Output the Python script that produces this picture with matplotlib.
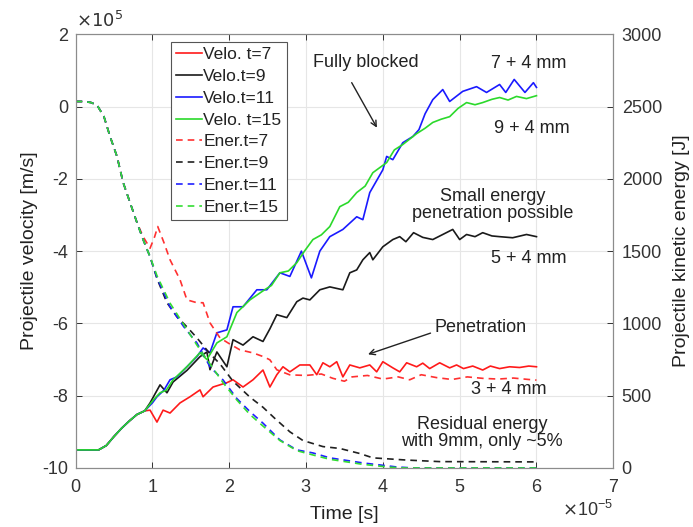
import numpy as np
import matplotlib
matplotlib.use("Agg")
from matplotlib import pyplot as plt
from matplotlib.ticker import FuncFormatter

plt.rcParams['font.family'] = ['Liberation Sans', 'DejaVu Sans']
plt.rcParams['axes.unicode_minus'] = False

# time in 1e-5 s, velocity in 1e5 m/s, energy in J
t_start = [0, 0.1, 0.2, 0.3, 0.4, 0.5, 0.6, 0.7, 0.8, 0.9]
v_start = [-9.5, -9.5, -9.5, -9.5, -9.38, -9.13, -8.9, -8.7, -8.52, -8.42]

t_v7 = [0.97, 1.06, 1.14, 1.23, 1.36, 1.49, 1.62, 1.66, 1.79, 1.97, 2.05, 2.18, 2.31, 2.44, 2.53,
        2.62, 2.7, 2.79, 2.92, 3.05, 3.14, 3.22, 3.31, 3.4, 3.48, 3.57, 3.7, 3.83, 3.92, 4.0,
        4.13, 4.22, 4.31, 4.44, 4.52, 4.61, 4.74, 4.87, 4.96, 5.05, 5.17, 5.3, 5.4, 5.52, 5.65,
        5.78, 5.9, 6.0]
v_v7 = [-8.4, -8.73, -8.4, -8.48, -8.2, -8.03, -7.84, -8.03, -7.76, -7.64, -7.56, -7.76, -7.56, -7.29, -7.76,
        -7.42, -7.2, -7.34, -7.15, -7.15, -7.42, -7.09, -7.2, -7.06, -7.48, -7.15, -7.23, -7.15, -7.34, -7.06,
        -7.23, -7.34, -7.09, -7.2, -7.1, -7.25, -7.09, -7.23, -7.15, -7.25, -7.18, -7.29, -7.18, -7.25, -7.2,
        -7.22, -7.18, -7.2]

t_v9 = [0.97, 1.1, 1.19, 1.27, 1.45, 1.62, 1.71, 1.75, 1.84, 1.97, 2.05, 2.18, 2.31, 2.44, 2.53,
        2.62, 2.75, 2.88, 2.96, 3.05, 3.18, 3.31, 3.48, 3.57, 3.66, 3.74, 3.83, 3.87, 4.0, 4.13,
        4.22, 4.3, 4.4, 4.52, 4.65, 4.78, 4.91, 5.0, 5.09, 5.2, 5.3, 5.42, 5.52, 5.69, 5.87, 6.0]
v_v9 = [-8.2, -7.7, -7.92, -7.62, -7.3, -6.92, -6.79, -7.28, -6.79, -7.2, -6.45, -6.6, -6.37, -6.5, -6.15,
        -5.76, -5.84, -5.4, -5.3, -5.35, -5.07, -4.99, -5.07, -4.6, -4.52, -4.24, -4.04, -4.24, -3.88, -3.68,
        -3.6, -3.74, -3.49, -3.62, -3.68, -3.54, -3.4, -3.68, -3.54, -3.6, -3.49, -3.58, -3.6, -3.63, -3.54, -3.6]

t_v11 = [1.0, 1.06, 1.15, 1.23, 1.32, 1.45, 1.58, 1.66, 1.75, 1.84, 1.97, 2.05, 2.18, 2.36, 2.49,
         2.66, 2.79, 2.94, 3.07, 3.18, 3.31, 3.48, 3.66, 3.74, 3.83, 4.0, 4.05, 4.13, 4.26, 4.39,
         4.47, 4.55, 4.65, 4.78, 4.87, 5.04, 5.22, 5.35, 5.52, 5.6, 5.71, 5.85, 5.96, 6.0]
v_v11 = [-8.2, -8.03, -7.85, -7.56, -7.48, -7.2, -6.92, -6.68, -6.81, -6.26, -6.18, -5.54, -5.54, -5.07, -5.07,
         -4.6, -4.7, -4.0, -4.74, -4.0, -3.6, -3.4, -3.05, -3.13, -2.38, -1.75, -1.38, -1.47, -1.0, -0.83,
         -0.64, -0.2, 0.19, 0.47, 0.14, 0.42, 0.55, 0.39, 0.61, 0.39, 0.75, 0.39, 0.66, 0.53]

t_v15 = [1.02, 1.1, 1.18, 1.27, 1.45, 1.62, 1.71, 1.84, 1.97, 2.1, 2.27, 2.44, 2.55, 2.66, 2.77,
         2.88, 2.98, 3.09, 3.2, 3.31, 3.44, 3.55, 3.66, 3.77, 3.87, 4.05, 4.15, 4.26, 4.44, 4.55,
         4.65, 4.76, 4.87, 4.98, 5.09, 5.2, 5.3, 5.42, 5.52, 5.63, 5.74, 5.87, 6.0]
v_v15 = [-8.1, -7.92, -7.85, -7.56, -7.2, -6.81, -7.0, -6.54, -6.37, -5.7, -5.35, -5.1, -4.95, -4.6, -4.55,
         -4.32, -4.0, -3.68, -3.55, -3.32, -2.77, -2.65, -2.38, -2.2, -1.83, -1.55, -1.2, -1.05, -0.75, -0.6,
         -0.44, -0.35, -0.28, -0.05, 0.11, 0.05, 0.11, 0.2, 0.25, 0.18, 0.28, 0.22, 0.3]

t_e_start = [0, 0.1, 0.2, 0.28, 0.37, 0.45, 0.54, 0.62, 0.71, 0.8]
e_start = [2535, 2535, 2528, 2510, 2430, 2292, 2154, 1974, 1835, 1697]

t_e7 = [0.88, 0.97, 1.03, 1.07, 1.15, 1.23, 1.36, 1.45, 1.58, 1.66, 1.75, 1.88, 2.0, 2.14, 2.31,
        2.45, 2.53, 2.62, 2.79, 3.0, 3.2, 3.35, 3.5, 3.6, 3.8, 4.0, 4.2, 4.35, 4.5, 4.7,
        4.9, 5.1, 5.3, 5.5, 5.7, 5.9, 6.0]
e_e7 = [1600, 1520, 1600, 1670, 1560, 1440, 1302, 1163, 1143, 1143, 1004, 900, 860, 817, 796,
        769, 748, 679, 644, 640, 650, 620, 600, 630, 640, 615, 630, 610, 645, 625,
        612, 630, 620, 615, 622, 612, 608]

t_e9 = [0.88, 0.97, 1.06, 1.19, 1.32, 1.45, 1.58, 1.75, 1.88, 2.05, 2.27, 2.44, 2.6, 2.79, 2.96,
        3.22, 3.44, 3.7, 3.87, 4.3, 4.74, 6.0]
e_e9 = [1579, 1461, 1310, 1143, 1046, 976, 900, 790, 720, 600, 490, 420, 340, 250, 190,
        148, 135, 100, 70, 55, 44, 42]

t_e11 = [0.88, 0.97, 1.06, 1.23, 1.41, 1.58, 1.75, 1.92, 2.1, 2.27, 2.44, 2.66, 2.88, 3.09, 3.31,
         3.74, 4.18, 4.4, 6.0]
e_e11 = [1579, 1461, 1316, 1115, 976, 865, 700, 609, 480, 390, 310, 194, 125, 104, 70,
         35, 7, 0, 0]

t_e15 = [0.88, 0.97, 1.06, 1.23, 1.41, 1.58, 1.75, 1.92, 2.1, 2.27, 2.44, 2.66, 2.88, 3.09, 3.31,
         3.74, 4.1, 4.3, 6.0]
e_e15 = [1579, 1461, 1330, 1140, 990, 850, 720, 590, 470, 370, 290, 190, 120, 90, 60,
         25, 5, 0, 0]

velo_series = [("Velo. t=7", t_v7, v_v7, "#ff1a1a"),
               ("Velo.t=9", t_v9, v_v9, "#1a1a1a"),
               ("Velo.t=11", t_v11, v_v11, "#1a1aff"),
               ("Velo. t=15", t_v15, v_v15, "#2bd92b")]
ener_series = [("Ener.t=7", t_e7, e_e7, "#ff3030"),
               ("Ener.t=9", t_e9, e_e9, "#202020"),
               ("Ener.t=11", t_e11, e_e11, "#2020ff"),
               ("Ener.t=15", t_e15, e_e15, "#33dd33")]

fig = plt.figure(figsize=(6.93, 5.27), dpi=100)
ax = fig.add_axes([0.109, 0.112, 0.776, 0.823])
ax2 = ax.twinx()

handles = []
for label, tt, vv, c in velo_series:
    t_all = np.array(t_start + tt) * 1e-5
    v_all = np.array(v_start + vv) * 1e5
    h, = ax.plot(t_all, v_all, color=c, lw=1.2, label=label)
    handles.append(h)

for label, tt, ee, c in ener_series:
    t_all = np.array(t_e_start + tt) * 1e-5
    e_all = np.array(e_start + ee)
    h, = ax2.plot(t_all, e_all, color=c, lw=1.2, ls=(0, (4, 3)), label=label)
    handles.append(h)

ax.set_xlim(0, 7e-5)
ax.set_ylim(-10e5, 2e5)
ax2.set_ylim(0, 3000)
ax.set_xticks(np.arange(0, 8) * 1e-5)
ax.set_yticks(np.arange(-10, 3, 2) * 1e5)
ax2.set_yticks(np.arange(0, 3001, 500))
ax.ticklabel_format(axis='x', style='sci', scilimits=(-5, -5), useMathText=True)
# plain hyphen minus like the original, exponent written separately
ax.yaxis.set_major_formatter(FuncFormatter(lambda v, p: "%g" % (v / 1e5)))

ax.grid(True, color='#e6e6e6', lw=0.8)
ax.set_axisbelow(True)

gray = '#333333'
for a in (ax, ax2):
    a.tick_params(direction='in', length=4, labelsize=13, colors=gray, width=0.7)
    for s in a.spines.values():
        s.set_color('#8c8c8c')
        s.set_linewidth(0.8)
ax.tick_params(axis='x', top=True, pad=8)
ax.tick_params(axis='y', pad=5)
ax2.tick_params(axis='y', pad=6)
ax.xaxis.get_offset_text().set_fontsize(13)
ax.xaxis.get_offset_text().set_color(gray)
ax.text(0.0, 1.008, r"$\times10^{5}$", transform=ax.transAxes, ha='left', va='bottom',
        fontsize=13, color=gray)

ax.set_xlabel("Time [s]", fontsize=14, color='#222222', labelpad=7)
ax.set_ylabel("Projectile velocity [m/s]", fontsize=14, color='#222222', labelpad=3)
ax2.set_ylabel("Projectile kinetic energy [J]", fontsize=14, color='#222222', labelpad=8)

leg = ax2.legend(handles=handles, loc='upper left', bbox_to_anchor=(0.178, 0.982),
                 fontsize=12.5, frameon=True, fancybox=False, framealpha=1,
                 handlelength=1.45, handletextpad=0.1, borderpad=0.3, labelspacing=0.38,
                 borderaxespad=0)
leg.get_frame().set_edgecolor('#555555')
leg.get_frame().set_linewidth(0.8)
for txt in leg.get_texts():
    txt.set_color('#222222')

tc = '#222222'
fs = 13
ax.text(0.540, 0.935, "Fully blocked", transform=ax.transAxes, ha='center', va='center', fontsize=fs, color=tc)
ax.annotate("", xy=(0.563, 0.779), xytext=(0.511, 0.894), xycoords='axes fraction',
            arrowprops=dict(arrowstyle='->', color='#222222', lw=1.0))
ax.text(0.842, 0.933, "7 + 4 mm", transform=ax.transAxes, ha='center', va='center', fontsize=fs, color=tc)
ax.text(0.849, 0.783, "9 + 4 mm", transform=ax.transAxes, ha='center', va='center', fontsize=fs, color=tc)
ax.text(0.775, 0.606, "Small energy\npenetration possible", transform=ax.transAxes, ha='center',
        va='center', fontsize=fs, color=tc, linespacing=1.05)
ax.text(0.842, 0.484, "5 + 4 mm", transform=ax.transAxes, ha='center', va='center', fontsize=fs, color=tc)
ax.text(0.753, 0.325, "Penetration", transform=ax.transAxes, ha='center', va='center', fontsize=fs, color=tc)
ax.annotate("", xy=(0.539, 0.260), xytext=(0.665, 0.313), xycoords='axes fraction',
            arrowprops=dict(arrowstyle='->', color='#222222', lw=1.0))
ax.text(0.805, 0.180, "3 + 4 mm", transform=ax.transAxes, ha='center', va='center', fontsize=fs, color=tc)
ax.text(0.756, 0.081, "Residual energy\nwith 9mm, only ~5%", transform=ax.transAxes, ha='center',
        va='center', fontsize=fs, color=tc, linespacing=1.05)

fig.savefig("out.png", dpi=100)
